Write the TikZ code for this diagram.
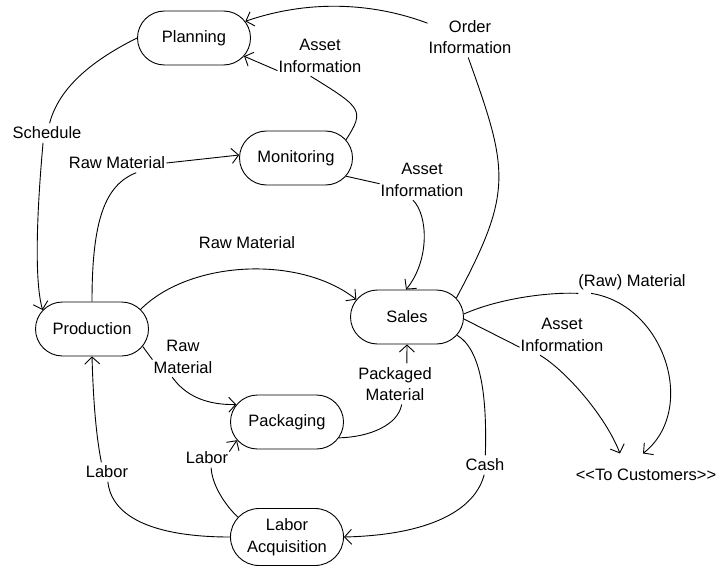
\documentclass[tikz,border=0pt]{standalone}
\usepackage{fontspec}
\setmainfont{Liberation Sans}
\usetikzlibrary{shapes.misc,arrows.meta,calc}
\begin{document}
\begin{tikzpicture}[x=1pt,y=-1pt,
  every node/.style={font=\fontsize{16.5}{21.5}\selectfont},
  state/.style={draw, line width=0.9pt, rounded rectangle, minimum width=113pt,
    minimum height=54pt, align=center, inner sep=0pt},
  lbl/.style={align=center, inner xsep=1pt, inner ysep=3.5pt},
  flow/.style={line width=0.9pt},
  arr/.style={flow, -{Straight Barb[length=7pt,width=15pt]}}]
\useasboundingbox (0,0) rectangle (722,567);

% activities
\node[state] (planning)   at (194,38)  {Planning};
\node[state] (monitoring) at (296,158) {Monitoring};
\node[state] (production) at (92,329)  {Production};
\node[state] (sales)      at (407,317) {Sales};
\node[state] (packaging)  at (287,422) {Packaging};
\node[state, minimum height=57pt] (labacq) at (287,537) {Labor\\Acquisition};
\node[lbl] (tocust) at (646,475) {<{}<To Customers>{}>};

% flow labels
\node[lbl] (oi)    at (470,37)  {Order\\Information};
\node[lbl] (am1)   at (320,56)  {Asset\\Information};
\node[lbl] (sched) at (47,133)  {Schedule};
\node[lbl] (rm1)   at (117,163) {Raw Material};
\node[lbl] (rm2)   at (247,243) {Raw Material};
\node[lbl] (am2)   at (422,180) {Asset\\Information};
\node[lbl] (rm3)   at (183,357) {Raw\\Material};
\node[lbl] (lab1)  at (107,472) {Labor};
\node[lbl] (lab2)  at (207,458) {Labor};
\node[lbl] (pm)    at (395,384) {Packaged\\Material};
\node[lbl] (cash)  at (485,465) {Cash};
\node[lbl] (rawm)  at (632,282) {(Raw) Material};
\node[lbl] (am3)   at (562,335) {Asset\\Information};

% order information
\draw[flow] (sales.21) .. controls (513,192) and (509,171) .. (oi.-95);
\draw[arr] (oi.162) .. controls (371,2) and (307,0) .. (planning.18);
% asset information to planning
\draw[flow] (monitoring.20) .. controls (365,110) and (362,108) .. (am1.-115);
\draw[arr] (am1.199) -- (planning.-20);
% schedule
\draw[flow] (planning.180) .. controls (101,56) and (60,83) .. (sched.75);
\draw[arr] (sched.-112) .. controls (37,210) and (34,280) .. (production.159);
% raw material to monitoring
\draw[flow] (production.90) .. controls (92,220) and (105,185) .. (rm1.-27);
\draw[arr] (rm1.east) -- (monitoring.177);
% raw material to sales
\draw[arr] (production.22) .. controls (190,260) and (300,255) .. (sales.161);
% asset information to sales
\draw[flow] (monitoring.-20) -- (am2.185);
\draw[arr] (am2.-114) .. controls (428,215) and (430,260) .. (sales.92);
% raw material to packaging
\draw[flow] (production.-19) -- (rm3.185);
\draw[arr] (rm3.-118) .. controls (185,395) and (205,405) .. (packaging.161);
% labor
\draw[flow] (labacq.180) .. controls (160,537) and (112,520) .. (lab1.-85);
\draw[arr] (lab1.120) .. controls (95,430) and (93,390) .. (production.-90);
\draw[flow] (labacq.158) .. controls (225,505) and (212,485) .. (lab2.-67);
\draw[arr] (lab2.16) -- (packaging.200);
% packaged material
\draw[flow] (packaging.-17) .. controls (370,437) and (398,425) .. (pm.-72);
\draw[arr] (pm.60) -- (sales.-90);
% cash
\draw[flow] (sales.-20) .. controls (482,350) and (487,400) .. (cash.88);
\draw[arr] (cash.-95) .. controls (475,510) and (430,535) .. (labacq.0);
% outputs to customers
\draw[flow] (sales.3) .. controls (500,298) and (550,292) .. (rawm.192);
\draw[arr] ($(rawm.south west)+(14,0)$) .. controls (665,305) and (698,410) .. ($(tocust.north)+(-3,-12)$);
\draw[flow] (sales.-2) -- (am3.196);
\draw[arr] ($(am3.south)+(-22,0)$) .. controls (565,370) and (605,415) .. ($(tocust.north)+(-26,-12)$);
\end{tikzpicture}
\end{document}
